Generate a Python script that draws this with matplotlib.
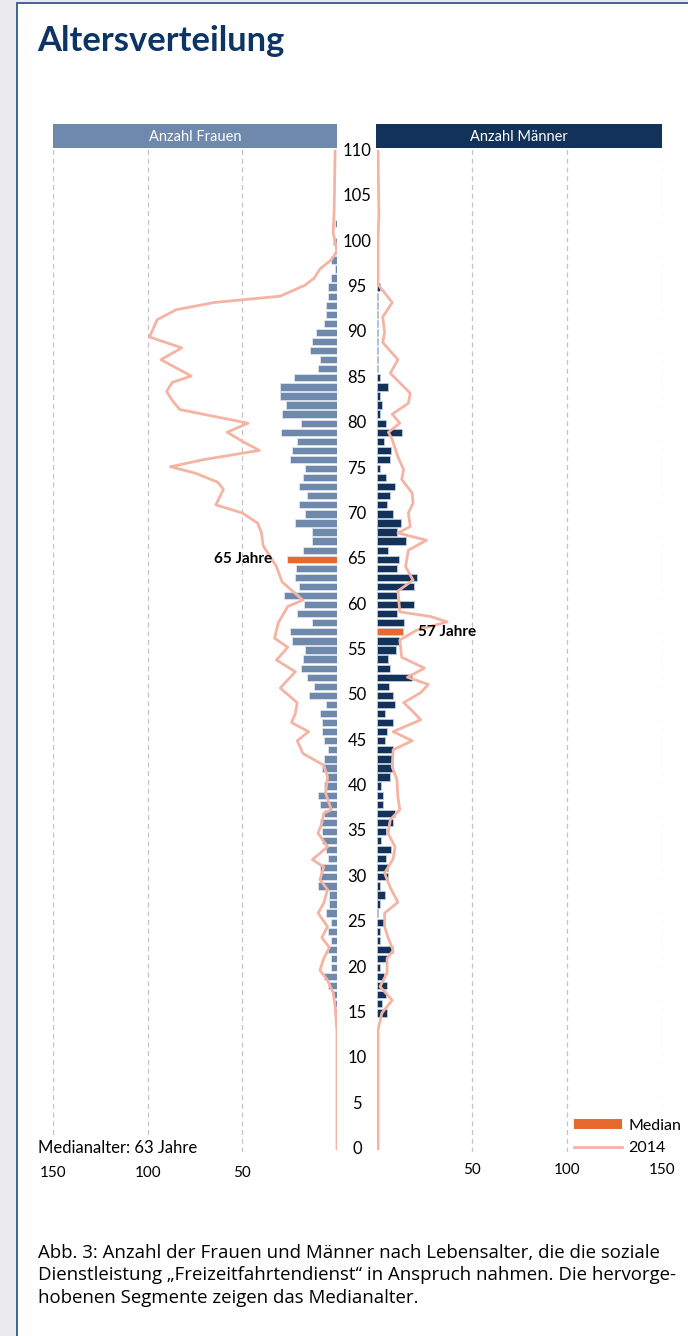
import numpy as np
import matplotlib
matplotlib.use("Agg")
import matplotlib.pyplot as plt
from matplotlib.patches import Rectangle
from matplotlib.lines import Line2D
from matplotlib.transforms import blended_transform_factory

plt.rcParams["font.family"] = ["Lato", "DejaVu Sans"]

# --- data -------------------------------------------------------------
ages_w = np.arange(15, 103)
women = [1, 1, 2, 5, 7, 3, 3, 4.5, 3, 5, 3, 6, 4, 4, 10, 9, 9, 5, 6, 8,
         8, 9, 7, 9, 10, 7, 5.5, 8, 7, 5, 7, 8, 8, 9, 5.8, 15, 12, 16, 19, 18,
         17, 24, 25, 13, 21, 17.5, 28, 20, 22, 21.5, 26.5, 18, 13, 13, 22, 17, 20, 16, 20, 18,
         17, 25, 24, 21, 29.5, 19, 29, 27, 30, 30, 22.5, 10, 9, 14, 13, 11, 7, 6, 6, 5,
         5, 3, 1, 3, 1, 2, 0, 1]

ages_m = np.arange(15, 96)
men = [5.4, 2.5, 4.6, 5.4, 3.9, 1.4, 5, 8.4, 1.8, 1.4, 4.2, 0.5, 1.4, 4.4, 1.6, 5.6, 5.6, 4.6, 7.4, 2.3,
       4.6, 8.4, 9.5, 3.3, 3.3, 2.3, 7, 8.4, 8.4, 8.4, 4.4, 5.4, 8.4, 4.4, 9.5, 8.4, 6.5, 18.4, 7, 5.8,
       9.8, 11.8, 13.5, 14.4, 10.7, 19.5, 10.7, 19.5, 21, 10.7, 11.8, 5.8, 15.4, 10.5, 12.5, 8.4, 5.4, 6.7, 9.5, 4.7,
       1.4, 6.8, 7.5, 3.5, 13, 4.7, 1.6, 2.5, 1.6, 5.8, 1.4, 0.5, 0.7, 0.5, 0.5, 0.5, 0.5, 0.5, 0.5, 0.5,
       1.5]

median_w = 65
median_m = 57

# 2014 comparison line
line_age_w = [0, 13, 15.7, 17.2, 18.6, 19.7, 21, 22.2, 23.3, 24.5, 26, 27.1, 28.6, 29.7, 31.1, 31.9, 33.3,
              34.8, 35.9, 37, 37.4, 39.2, 41, 42.3, 43.6, 45, 46, 47, 48, 49.2, 50.8, 52.6, 53.9, 55.3,
              56.3, 58, 59.8, 60.5, 62.5, 64.2, 66.5, 68, 69, 70.1, 71, 72.7, 73.5, 74.5, 75.2, 76, 77,
              78, 79, 80, 81.5, 82.5, 83.5, 84.5, 85.2, 87, 88.3, 89.5, 91.4, 92.5, 93.3, 94, 95.2, 96,
              97, 98, 99, 101, 103.5, 110]
line_w = [0, 0, 1, 2, 5, 9, 7, 4, 8, 5, 10, 7, 5, 9, 7, 13, 5,
          10, 8, 7, 3, 6, 5, 7, 18, 21, 15, 24, 22, 21, 30, 22, 32, 26,
          33, 31, 26, 18, 29, 32, 39, 40, 42, 50, 64, 60, 63, 75, 88, 70, 41,
          50, 58, 47, 83, 87, 90, 87, 77, 93, 82, 99, 95, 85, 65, 30, 17, 12,
          9, 3, 0, 2, 1.5, 1]

line_age_m = [0, 13.1, 15, 16.4, 17.9, 19.4, 21, 21.9, 23.3, 24.5, 26, 27.2, 28.8, 30.4, 32, 33.3,
              34.8, 36.3, 37.4, 38.8, 40.7, 42.1, 44, 45, 46, 47.3, 48.2, 49.2, 50.3, 51.2, 52, 53,
              54.2, 56.1, 57.2, 58.1, 58.7, 59.2, 61.5, 62.7, 64.2, 66, 67.1, 67.9, 68.6, 70.1, 71.2,
              72.3, 73.8, 74.9, 76.3, 78.2, 79, 80, 81, 82.2, 83.3, 85.5, 87, 88.9, 90, 91.7, 93.3,
              95.3, 97, 100, 103, 110]
line_m = [0.5, 0.5, 2.6, 8, 1.6, 5.3, 5.3, 8.5, 5.8, 4, 4, 11, 7, 4, 8.5, 9.5,
          5.8, 7, 12, 11, 10.5, 8, 8.5, 18.5, 8.5, 23, 19, 14, 23, 27, 16, 25,
          13, 12, 21, 37, 28, 12, 11, 19, 15, 16.5, 26, 11, 17.5, 16.5, 19,
          18.5, 13, 14, 11, 8, 6, 12, 8, 16.5, 17.5, 7, 11, 3, 4, 3, 8,
          0.5, 0.5, 0.5, 1, 0.5]

age_ticks = list(range(0, 111, 5))
count_ticks = [50, 100, 150]

# --- colours ------------------------------------------------------------
c_women = "#6e89ab"
c_men = "#12325a"
c_median = "#e8692e"
c_line = "#f5b4a3"
c_grid = "#c4c4c4"
c_title = "#0d3563"

W, H = 688, 1336
fig = plt.figure(figsize=(W / 100, H / 100), dpi=100, facecolor="#ebebed")

def fx(px):
    return px / W

def fy(py):
    return 1 - py / H

# white card with blue border (bottom and right edges fall outside the picture)
fig.patches.append(Rectangle((fx(17), -0.05), 1.0, fy(3) + 0.05, transform=fig.transFigure,
                             facecolor="white", edgecolor="#2f5b8a", linewidth=1.3, zorder=-5))

fig.text(fx(37), fy(41), "Altersverteilung", fontsize=24.8, fontweight="bold",
         color=c_title, va="center", ha="left")

# axes placement (age 110 at y=151 px, 0 at y=1149 px)
ylo, yhi = -0.3, 110.3
ppu = (1149 - 151) / 110
ax_bottom = fy(1149 + 0.3 * ppu)
ax_height = (yhi - ylo) * ppu / H

ax_l = fig.add_axes([fx(53), ax_bottom, fx(337) - fx(53), ax_height])
ax_r = fig.add_axes([fx(377), ax_bottom, fx(662) - fx(377), ax_height])

col_w = [c_median if a == median_w else c_women for a in ages_w]
col_m = [c_median if a == median_m else c_men for a in ages_m]

ax_l.barh(ages_w, women, height=0.8, color=col_w, edgecolor="#e3e9f0", linewidth=0.5, zorder=3)
ax_r.barh(ages_m, men, height=0.8, color=col_m, edgecolor="#c9d3df", linewidth=0.5, zorder=3)

ax_l.plot(line_w, line_age_w, color=c_line, lw=2, zorder=4,
          solid_capstyle="round", solid_joinstyle="round")
ax_r.plot(line_m, line_age_m, color=c_line, lw=2, zorder=4,
          solid_capstyle="round", solid_joinstyle="round")

ax_l.set_xlim(150, 0)
ax_r.set_xlim(0, 150)
for ax in (ax_l, ax_r):
    ax.set_ylim(ylo, yhi)
    ax.set_yticks([])
    ax.set_xticks(count_ticks)
    ax.set_xticklabels([str(t) for t in count_ticks], fontsize=11)
    ax.tick_params(axis="x", length=0)
    for s in ax.spines.values():
        s.set_visible(False)
    ax.grid(axis="x", color=c_grid, linestyle=(0, (4, 3)), linewidth=0.9, zorder=0)
    ax.set_facecolor("none")
ax_l.tick_params(axis="x", pad=10)
ax_r.tick_params(axis="x", pad=8)

# age labels in the gap between panels
tr = blended_transform_factory(fig.transFigure, ax_l.transData)
for a in age_ticks:
    fig.text(fx(357), a, str(a), transform=tr, ha="center", va="center", fontsize=12)

# median labels
ax_l.text(women[list(ages_w).index(median_w)] + 8, median_w, "65 Jahre", ha="right", va="center",
          fontsize=11, fontweight="bold", zorder=5)
ax_r.text(men[list(ages_m).index(median_m)] + 8, median_m, "57 Jahre", ha="left", va="center",
          fontsize=11, fontweight="bold", zorder=5)

# panel headers
fig.patches.append(Rectangle((fx(53), fy(148)), fx(337) - fx(53), fy(124) - fy(148),
                             transform=fig.transFigure, facecolor=c_women, edgecolor="none"))
fig.patches.append(Rectangle((fx(376), fy(148)), fx(662) - fx(376), fy(124) - fy(148),
                             transform=fig.transFigure, facecolor=c_men, edgecolor="none"))
fig.text(fx(195), fy(137), "Anzahl Frauen", color="white", ha="center", va="center", fontsize=10.5)
fig.text(fx(519), fy(137), "Anzahl Männer", color="white", ha="center", va="center", fontsize=10.5)

fig.text(fx(38), fy(1148), "Medianalter: 63 Jahre", fontsize=12, ha="left", va="center",
         bbox=dict(facecolor="white", edgecolor="none", pad=3))

# legend
handles = [Rectangle((0, 0), 1, 1, facecolor=c_median, edgecolor="none"),
           Line2D([], [], color=c_line, lw=2)]
fig.legend(handles, ["Median", "2014"], loc="center left",
           bbox_to_anchor=(fx(563), fy(1137)), frameon=True, fontsize=11.5,
           handlelength=3.0, handleheight=0.6, handletextpad=0.4, labelspacing=0.55,
           borderpad=0.2, facecolor="white", edgecolor="none", framealpha=1)

caption = ["Abb. 3: Anzahl der Frauen und Männer nach Lebensalter, die die soziale",
           "Dienstleistung \u201eFreizeitfahrtendienst\u201c in Anspruch nahmen. Die hervorge-",
           "hobenen Segmente zeigen das Medianalter."]
for i, line in enumerate(caption):
    fig.text(fx(38), fy(1253 + i * 22.5), line, fontsize=13.4, ha="left", va="center",
             family=["Open Sans", "DejaVu Sans"])

fig.savefig("out.png", dpi=100, facecolor=fig.get_facecolor())
